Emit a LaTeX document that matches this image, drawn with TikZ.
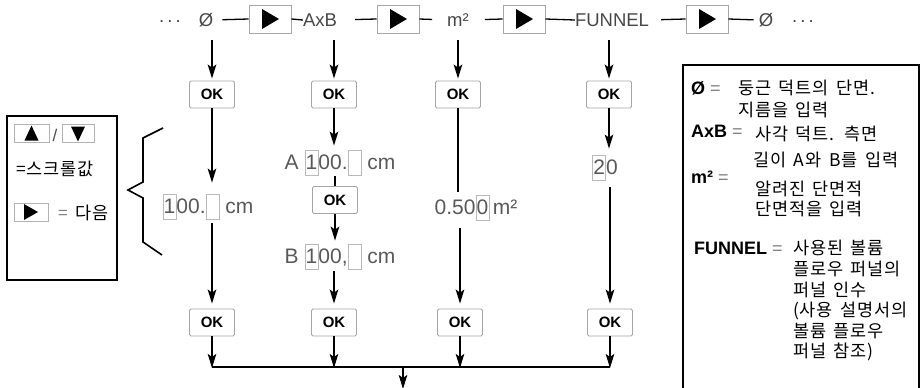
\documentclass[tikz,border=0pt]{standalone}
\usepackage{fontspec}
\setmainfont{Liberation Sans}
\newfontfamily\kr[LetterSpace=5,WordSpace=1.6]{Noto Sans CJK KR}
\usetikzlibrary{arrows.meta}
\newcommand{\dg}[1]{{\fboxsep=0.4pt\fboxrule=0.7pt\fcolorbox{gray!55}{white}{\rule[-0.26em]{0pt}{1.15em}#1}}}
\newcommand{\eb}{{\fboxsep=0.4pt\fboxrule=0.7pt\fcolorbox{gray!55}{white}{\rule[-0.26em]{0pt}{1.15em}\phantom{0}}}}
\begin{document}
\begin{tikzpicture}[x=1pt,y=-1pt,
  okbox/.style={draw=gray!70, rounded corners=1.5pt, line width=0.8pt, minimum width=45pt, minimum height=27pt, inner sep=0pt, font=\fontsize{15}{15}\selectfont\bfseries, fill=white},
  btn/.style={draw=gray!70, line width=0.8pt, minimum width=42pt, minimum height=28pt, inner sep=0pt, fill=white,
    path picture={\fill[black] ([xshift=-8pt,yshift=10pt]path picture bounding box.center) -- ++(0pt,-20pt) -- ++(17pt,10pt) -- cycle;}},
  sbtn/.style={draw=gray!60, line width=0.8pt, minimum height=18pt, inner sep=0pt, fill=white},
  lbl/.style={font=\fontsize{18.5}{18.5}\selectfont, text=black!72, inner sep=0pt},
  val/.style={font=\fontsize{21}{21}\selectfont, text=black!65, inner sep=0pt},
  key/.style={font=\fontsize{18}{18}\selectfont\bfseries, anchor=west, inner sep=0pt},
  ktxt/.style={font=\fontsize{17.5}{17.5}\selectfont\kr, anchor=west, inner sep=0pt},
  conn/.style={line width=1.3pt},
  flow/.style={line width=1.8pt, -{Stealth[length=14pt,width=8.5pt,inset=3pt]}},
  plain/.style={line width=1.8pt},
]
\useasboundingbox (0,0) rectangle (922,388);
% ---------- top row ----------
\node[lbl] (dl) at (170,22) {.\,.\,.};
\node[lbl] (o1) at (206,20) {Ø};
\node[btn] (b1) at (270,19) {};
\node[lbl] (axb) at (320,20) {AxB};
\node[btn] (b2) at (398,19) {};
\node[lbl] (m2) at (458,20) {m²};
\node[btn] (b3) at (524,19) {};
\node[lbl] (fun) at (612,20) {FUNNEL};
\node[btn] (b4) at (707,19) {};
\node[lbl] (o2) at (766,20) {Ø};
\node[lbl] (dr) at (803,22) {.\,.\,.};
\draw[conn, shorten <=9pt] (o1.east) -- (b1.west);
\draw[conn] (b1.east) -- (axb.west);
\draw[conn, shorten <=18pt] (axb.east) -- (b2.west);
\draw[conn, shorten >=15pt] (b2.east) -- (m2.west);
\draw[conn, shorten <=16pt] (m2.east) -- (b3.west);
\draw[conn] (b3.east) -- (fun.west);
\draw[conn, shorten <=12pt] (fun.east) -- (b4.west);
\draw[conn, shorten >=5pt] (b4.east) -- (o2.west);
% ---------- column starts ----------
\coordinate (t1) at (212,40);
\coordinate (t2) at (334,40);
\coordinate (t3) at (458,40);
\coordinate (t4) at (609,40);
% ---------- OK boxes ----------
\node[okbox] (ok1) at (212,94.5) {OK};
\node[okbox] (ok2) at (334,94.5) {OK};
\node[okbox] (ok3) at (458,94.5) {OK};
\node[okbox] (ok4) at (609,94.5) {OK};
\node[okbox] (ok2m) at (335,200) {OK};
\node[okbox] (ok1b) at (212,322.5) {OK};
\node[okbox] (ok2b) at (334,322.5) {OK};
\node[okbox] (ok3b) at (460,322.5) {OK};
\node[okbox] (ok4b) at (610,322.5) {OK};
\draw[flow, shorten >=2pt] (t1) -- (ok1.north);
\draw[flow, shorten >=2pt] (t2) -- (ok2.north);
\draw[flow, shorten >=2pt] (t3) -- (ok3.north);
\draw[flow, shorten >=2pt] (t4) -- (ok4.north);
% ---------- values ----------
\node[val] (v1) at (208,207) {\dg{1}00.\eb\ cm};
\node[val] (v2a) at (340,163) {A \dg{1}00.\eb\ cm};
\node[val] (v2b) at (340,257) {B \dg{1}00,\eb\ cm};
\node[val] (v3) at (476,208) {0.50\dg{0}\,m²};
\node[val] (v4) at (605,168) {\dg{2}0};
% col 1
\draw[flow, shorten >=11pt] (ok1.south) -- (ok1.south |- v1.north);
\draw[flow, shorten <=3pt, shorten >=5pt] (ok1.south |- v1.south) -- (ok1b.north);
% col 2
\draw[flow, shorten >=4pt] (ok2.south) -- (ok2.south |- v2a.north);
\draw[plain] (ok2m.north |- v2a.south) -- (ok2m.north);
\draw[flow, shorten >=3pt] (ok2m.south) -- (ok2m.south |- v2b.north);
\draw[flow, shorten <=1pt, shorten >=5pt] (ok2b.north |- v2b.south) -- (ok2b.north);
% col 3
\draw[plain, shorten >=3pt] (ok3.south) -- (ok3.south |- v3.north);
\draw[flow, shorten <=7pt, shorten >=5pt] (ok3b.north |- v3.south) -- (ok3b.north);
% col 4
\draw[flow, shorten >=6pt] (ok4.south) -- (ok4.south |- v4.north);
\draw[flow, shorten <=6pt, shorten >=5pt] (ok4b.north |- v4.south) -- (ok4b.north);
% ---------- merge ----------
\coordinate (j1) at (212,367);
\coordinate (j2) at (334,367);
\coordinate (j3) at (460,367);
\coordinate (j4) at (610,367);
\coordinate (jm) at (403,367);
\coordinate (end) at (403,389);
\draw[flow, shorten >=-1pt] (ok1b.south) -- (j1);
\draw[flow, shorten >=-1pt] (ok2b.south) -- (j2);
\draw[flow, shorten >=-1pt] (ok3b.south) -- (j3);
\draw[flow, shorten >=-1pt] (ok4b.south) -- (j4);
\draw[plain] (j1) -- (j4);
\draw[flow] (jm) -- (end);
% ---------- left legend ----------
\draw[line width=1.8pt] (7,116) rectangle (117,280);
\node[sbtn, minimum width=35pt,
  path picture={\fill[black] ([xshift=-7pt,yshift=-7pt]path picture bounding box.center) -- ++(14pt,0pt) -- ++(-7pt,15pt) -- cycle;}] (up) at (31.5,133.5) {};
\node[font=\fontsize{17}{17}\selectfont, text=black!70, inner sep=0pt] (sl) at (55,135) {/};
\node[sbtn, minimum width=32pt,
  path picture={\fill[black] ([xshift=-7pt,yshift=7pt]path picture bounding box.center) -- ++(14pt,0pt) -- ++(-7pt,-15pt) -- cycle;}] (dn) at (78,133.5) {};
\node[font=\fontsize{17.5}{17.5}\selectfont\kr, inner sep=0pt, anchor=west] (scr) at (16,169) {=스크롤값};
\node[sbtn, minimum width=34pt,
  path picture={\fill[black] ([xshift=-7pt,yshift=8pt]path picture bounding box.center) -- ++(0pt,-16pt) -- ++(14pt,8pt) -- cycle;}] (nx) at (31,212) {};
\node[font=\fontsize{17.5}{17.5}\selectfont\kr, inner sep=0pt, anchor=west] (nxt) at (58,213) {\textcolor{gray}{=} 다음};
% brace
\draw[line width=1.6pt] (163,128) -- (143,138) -- (143,182) -- (128,190) -- (143,198) -- (143,242) -- (162,255);
% ---------- right legend ----------
\draw[line width=1.8pt] (683,392) -- (683,65) -- (919,65) -- (919,392);
\node[key] (k1) at (691,88) {Ø \textcolor{gray}{\mdseries=}};
\node[ktxt] at (738,88) {둥근 덕트의 단면.};
\node[ktxt] at (738,110) {지름을 입력};
\node[key] (k2) at (691,131) {AxB \textcolor{gray}{\mdseries=}};
\node[ktxt] at (755,134) {사각 덕트. 측면};
\node[ktxt] at (753,160) {길이 A와 B를 입력};
\node[key] (k3) at (691,177) {m² \textcolor{gray}{\mdseries=}};
\node[ktxt] at (755,189) {알려진 단면적};
\node[ktxt] at (755,209) {단면적을 입력};
\node[key] (k4) at (694,248) {FUNNEL \textcolor{gray}{\mdseries=}};
\node[ktxt] at (793,248) {사용된 볼륨};
\node[ktxt] at (793,269) {플로우 퍼널의};
\node[ktxt] at (793,290) {퍼널 인수};
\node[ktxt] at (793,311) {(사용 설명서의};
\node[ktxt] at (793,331) {볼륨 플로우};
\node[ktxt] at (793,352) {퍼널 참조)};
\end{tikzpicture}
\end{document}
